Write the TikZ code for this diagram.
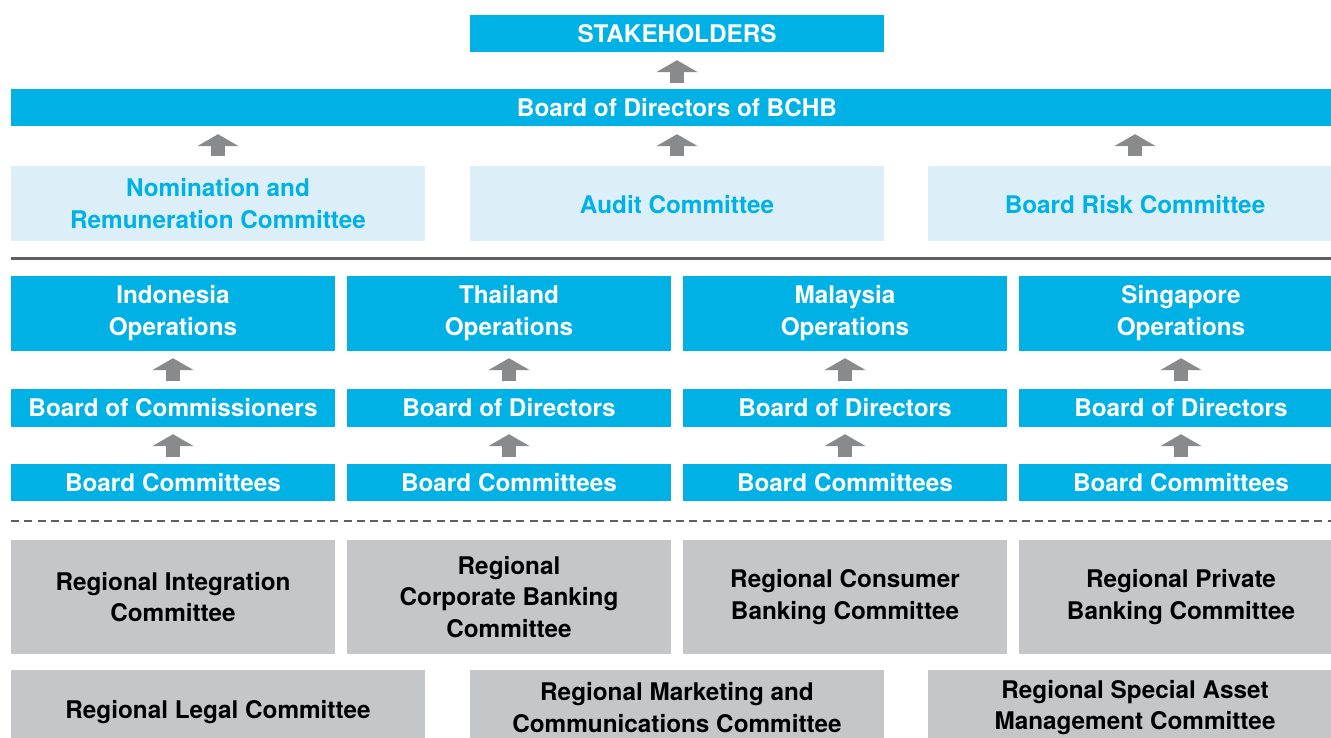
\documentclass[tikz,border=0pt]{standalone}
\usepackage{fontspec}
\setmainfont{TeX Gyre Heros}
\usetikzlibrary{arrows.meta}
\definecolor{cyanbox}{HTML}{00B1E6}
\definecolor{lightbox}{HTML}{DCEFF8}
\definecolor{graybox}{HTML}{C5C6C8}
\definecolor{arrowgray}{HTML}{898A8C}
\definecolor{rulegray}{HTML}{5E5F61}
\tikzset{
  base/.style={rectangle, inner sep=0pt, align=center, font=\fontsize{24.3}{31.5}\selectfont\bfseries},
  cbox/.style={base, fill=cyanbox, text=white},
  lbox/.style={base, fill=lightbox, text=cyanbox},
  gbox/.style={base, fill=graybox, text=black},
  lowtext/.style={text height=21pt, text depth=0pt},
  uparrow/.style={draw=arrowgray, line width=14.6pt, -{Triangle[width=41pt,length=12pt]}},
}
\begin{document}
\begin{tikzpicture}[x=1pt,y=-1pt]
\useasboundingbox (0,0) rectangle (1331,738);
\clip (0,0) rectangle (1331,738);
% top
\node[cbox, minimum width=414pt, minimum height=37pt] (stake) at (677,33.5) {STAKEHOLDERS};
\node[cbox, minimum width=1332pt, minimum height=37pt] (bchb) at (677,107.5) {Board of Directors of BCHB};
\node[lbox, minimum width=414pt, minimum height=75pt] (nrc) at (218,203.5) {Nomination and\\Remuneration Committee};
\node[lbox, lowtext, minimum width=414pt, minimum height=75pt] (audit) at (677,203.5) {Audit Committee};
\node[lbox, lowtext, minimum width=414pt, minimum height=75pt] (risk) at (1135,203.5) {Board Risk Committee};
\draw[uparrow, shorten >=8pt, shorten <=6pt] (bchb) -- (stake);
\draw[uparrow, shorten >=8pt, shorten <=10pt] (nrc.north) -- (nrc.north |- bchb.south);
\draw[uparrow, shorten >=8pt, shorten <=10pt] (audit.north) -- (audit.north |- bchb.south);
\draw[uparrow, shorten >=8pt, shorten <=10pt] (risk.north) -- (risk.north |- bchb.south);
% solid rule
\coordinate (ruleL) at (11,258.3);
\coordinate (ruleR) at (1343,258.3);
\draw[rulegray, line width=2.6pt] (ruleL) -- (ruleR);
% operations columns
\foreach \cx/\name/\ops/\brd in {173/ind/Indonesia/Board of Commissioners,509/tha/Thailand/Board of Directors,845/mal/Malaysia/Board of Directors,1181/sin/Singapore/Board of Directors}{
  \node[cbox, minimum width=324pt, minimum height=75pt] (\name ops) at (\cx,313) {\ops\\Operations};
  \node[cbox, minimum width=324pt, minimum height=37.5pt] (\name brd) at (\cx,407.75) {\brd};
  \node[cbox, minimum width=324pt, minimum height=37pt] (\name bc) at (\cx,482.5) {Board Committees};
  \draw[uparrow, shorten >=7.5pt, shorten <=8.3pt] (\name brd) -- (\name ops);
  \draw[uparrow, shorten >=7.5pt, shorten <=7.3pt] (\name bc) -- (\name brd);
}
% dashed rule
\coordinate (dashL) at (11,520.5);
\coordinate (dashR) at (1343,520.5);
\draw[rulegray, line width=2pt, dash pattern=on 8pt off 5.3pt] (dashL) -- (dashR);
% regional committees row 1
\node[gbox, minimum width=324pt, minimum height=114pt] (rint) at (173,597) {Regional Integration\\Committee};
\node[gbox, minimum width=324pt, minimum height=114pt] (rcorp) at (509,597) {Regional\\Corporate Banking\\Committee};
\node[gbox, minimum width=324pt, minimum height=114pt] (rcons) at (845,597) {Regional Consumer\\Banking Committee};
\node[gbox, minimum width=324pt, minimum height=114pt] (rpriv) at (1181,597) {Regional Private\\Banking Committee};
% row 2
\node[gbox, lowtext, minimum width=414pt, minimum height=75pt] (rlegal) at (218,707.5) {Regional Legal Committee};
\node[gbox, minimum width=414pt, minimum height=75pt] (rmkt) at (677,707.5) {Regional Marketing and\\Communications Committee};
\node[gbox, minimum width=414pt, minimum height=75pt] (rsam) at (1135,707.5) {Regional Special Asset\\Management Committee};
\end{tikzpicture}
\end{document}
